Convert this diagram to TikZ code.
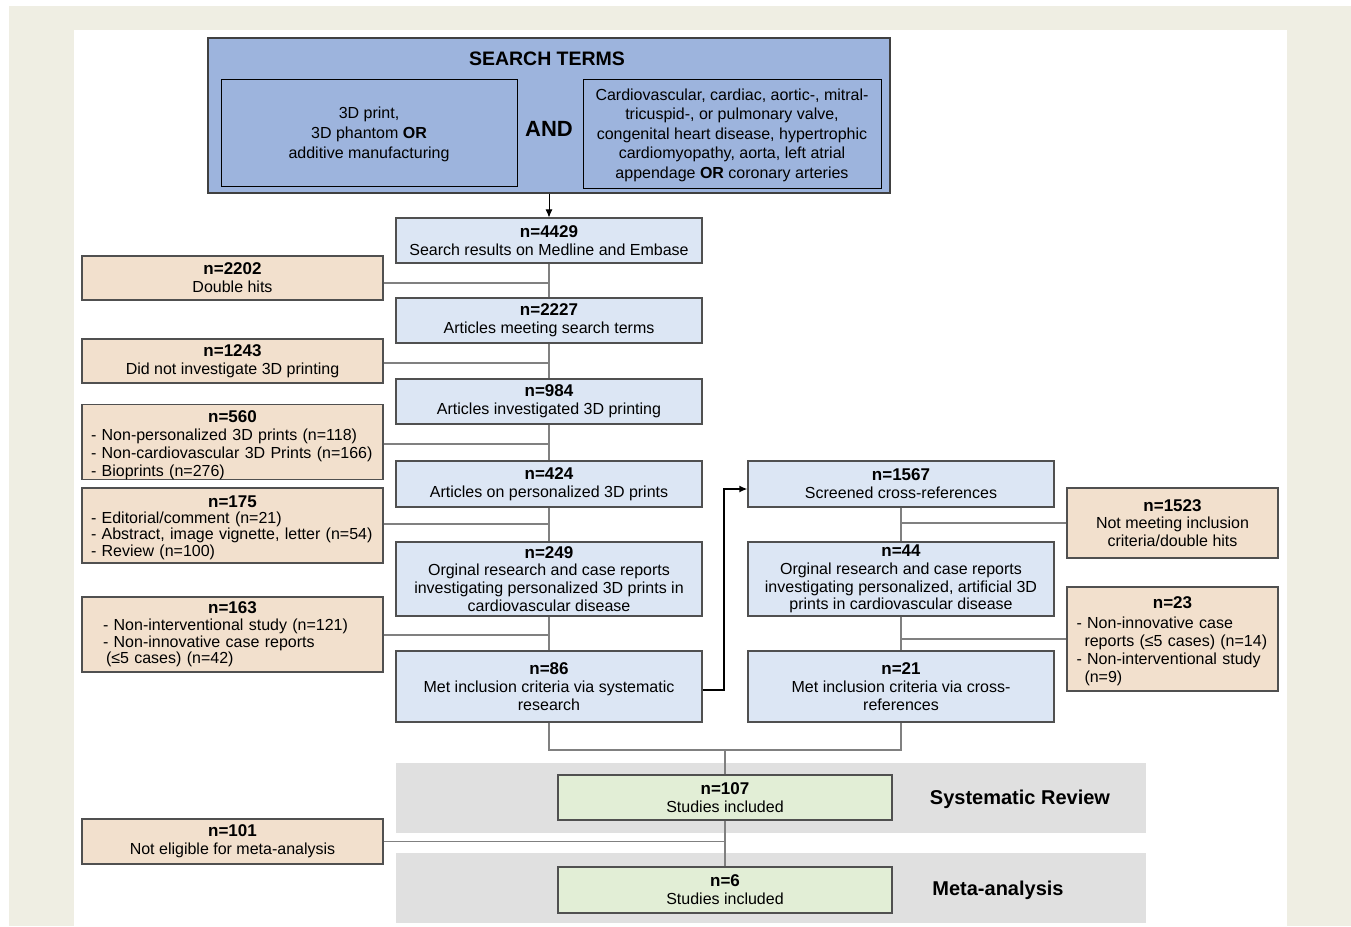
\documentclass[tikz,border=0pt]{standalone}
\usepackage{fontspec}
\setmainfont{Liberation Sans}
\usetikzlibrary{arrows.meta,calc}
\definecolor{pagebg}{HTML}{EFEEE3}
\definecolor{searchblue}{HTML}{9DB4DD}
\definecolor{lightblue}{HTML}{DCE6F4}
\definecolor{peach}{HTML}{F2E0CD}
\definecolor{lightgreen}{HTML}{E2EED6}
\definecolor{bandgray}{HTML}{E0E0E0}
\definecolor{boxline}{HTML}{505050}
\definecolor{connline}{HTML}{808080}
\newcommand\hd[1]{{\fontsize{17}{17.8}\selectfont\bfseries #1}}
\begin{document}
\begin{tikzpicture}[x=1pt,y=-1pt,
  base/.style={draw=boxline, line width=1.2pt, inner sep=0pt, align=center, font=\fontsize{16}{17.8}\selectfont},
  bluebox/.style={base, fill=lightblue},
  peachbox/.style={base, fill=peach},
  greenbox/.style={base, fill=lightgreen},
  conn/.style={draw=connline, line width=1.2pt},
  wide/.style={minimum width=306pt},
  left/.style={minimum width=301pt},
  boldlabel/.style={font=\fontsize{20}{22}\selectfont\bfseries, inner sep=0pt}
]
\useasboundingbox (0,0) rectangle (1351,926);
\fill[white] (0,0) rectangle (1351,926);
\fill[pagebg] (9,6) rectangle (1351,926);
\fill[white] (74,30) rectangle (1287,926);
% bands
\fill[bandgray] (396,763) rectangle (1146,833);
\fill[bandgray] (396,853) rectangle (1146,923);
% search terms
\node[draw=boxline!80!black, line width=1.6pt, fill=searchblue, minimum width=682pt, minimum height=155pt, inner sep=0pt] (search) at (549,115.5) {};
\node[font=\fontsize{19.5}{21}\selectfont\bfseries, inner sep=0pt] (st) at (547,59) {SEARCH TERMS};
\node[draw=black, line width=1pt, minimum width=296pt, minimum height=107pt, inner sep=0pt, align=center, font=\fontsize{16}{20}\selectfont] (sl) at (369,132.5) {\rule{0pt}{15pt}3D print,\\3D phantom \textbf{OR}\\additive manufacturing};
\node[draw=black, line width=1pt, minimum width=298pt, minimum height=109pt, inner sep=0pt, align=center, font=\fontsize{16}{19.5}\selectfont] (sr) at (732,133.5) {\rule{0pt}{15pt}Cardiovascular, cardiac, aortic-, mitral-\\tricuspid-, or pulmonary valve,\\congenital heart disease, hypertrophic\\cardiomyopathy, aorta, left atrial\\appendage \textbf{OR} coronary arteries};
\node[font=\fontsize{22}{24}\selectfont\bfseries, inner sep=0pt] (and) at (549,129) {AND};
% main column
\node[bluebox, wide, minimum height=45pt] (n4429) at (549,240.5) {\hd{n=4429}\\Search results on Medline and Embase};
\node[bluebox, wide, minimum height=45pt] (n2227) at (549,320.5) {\hd{n=2227}\\Articles meeting search terms};
\node[bluebox, wide, minimum height=45pt] (n984) at (549,401.5) {\hd{n=984}\\Articles investigated 3D printing};
\node[bluebox, wide, minimum height=46pt] (n424) at (549,484) {\hd{n=424}\\Articles on personalized 3D prints};
\node[bluebox, wide, minimum height=74pt] (n249) at (549,579) {\hd{n=249}\\Orginal research and case reports\\investigating personalized 3D prints in\\cardiovascular disease};
\node[bluebox, wide, minimum height=71pt] (n86) at (549,686.5) {\hd{n=86}\\Met inclusion criteria via systematic\\research};
% right column
\node[bluebox, wide, minimum height=46pt] (n1567) at (901,484) {\hd{n=1567}\\Screened cross-references};
\node[bluebox, wide, minimum height=74pt] (n44) at (901,579) {\hd{n=44}\\Orginal research and case reports\\investigating personalized, artificial 3D\\prints in cardiovascular disease};
\node[bluebox, wide, minimum height=71pt] (n21) at (901,686.5) {\hd{n=21}\\Met inclusion criteria via cross-\\references};
% exclusion boxes left
\node[peachbox, left, minimum height=44pt] (n2202) at (232.5,278) {\hd{n=2202}\\Double hits};
\node[peachbox, left, minimum height=44pt] (n1243) at (232.5,361) {\hd{n=1243}\\Did not investigate 3D printing};
\node[peachbox, left, minimum height=74pt, text width=283pt, align=left] (n560) at (232.5,442) {{\centering\rule{0pt}{18pt}\hd{n=560}\par}- Non-personalized 3D prints (n=118)\\- Non-cardiovascular 3D Prints (n=166)\\- Bioprints (n=276)};
\node[peachbox, left, minimum height=75pt, text width=283pt, align=left, font=\fontsize{16}{16.2}\selectfont] (n175) at (232.5,525.5) {{\centering\rule{0pt}{16pt}\hd{n=175}\par}- Editorial/comment (n=21)\\- Abstract, image vignette, letter (n=54)\\- Review (n=100)};
\node[peachbox, left, minimum height=75pt, text width=259pt, align=left, font=\fontsize{16}{16.6}\selectfont] (n163) at (232.5,634.5) {{\centering\hd{n=163}\par}- Non-interventional study (n=121)\\- Non-innovative case reports\\\hspace*{3pt}(≤5 cases) (n=42)};
\node[peachbox, left, minimum height=45pt] (n101) at (232.5,841.5) {\hd{n=101}\\Not eligible for meta-analysis};
% exclusion boxes right
\node[peachbox, minimum width=211pt, minimum height=70pt] (n1523) at (1172.5,523) {\hd{n=1523}\\Not meeting inclusion\\criteria/double hits};
\node[peachbox, minimum width=211pt, minimum height=104pt, text width=192pt, align=left, font=\fontsize{16}{18}\selectfont] (n23) at (1172.5,639) {{\centering\rule{0pt}{17pt}\hd{n=23}\par}\vspace{2pt}- Non-innovative case\\\hspace*{8pt}reports (≤5 cases) (n=14)\\- Non-interventional study\\\hspace*{8pt}(n=9)};
% results
\node[greenbox, minimum width=334pt, minimum height=45pt] (n107) at (725,797.5) {\hd{n=107}\\Studies included};
\node[greenbox, minimum width=334pt, minimum height=46pt] (n6) at (725,890) {\hd{n=6}\\Studies included};
\node[boldlabel] (sysrev) at (1020,799) {Systematic Review};
\node[boldlabel] (meta) at (998,890) {Meta-analysis};
% connectors
\draw[black, line width=0.8pt, -{Latex[length=8pt,width=7pt]}] (search.south) -- (n4429.north);
\draw[conn] (n4429.south) -- (n2227.north);
\draw[conn] (n2227.south) -- (n984.north);
\draw[conn] (n984.south) -- (n424.north);
\draw[conn] (n424.south) -- (n249.north);
\draw[conn] (n249.south) -- (n86.north);
\draw[conn] ([yshift=-5pt]n2202.east) -- ([yshift=-5pt]n2202.east -| n4429.south);
\draw[conn] ([yshift=-2pt]n1243.east) -- ([yshift=-2pt]n1243.east -| n4429.south);
\draw[conn] ([yshift=-2pt]n560.east) -- ([yshift=-2pt]n560.east -| n4429.south);
\draw[conn] ([yshift=1.5pt]n175.east) -- ([yshift=1.5pt]n175.east -| n4429.south);
\draw[conn] ([yshift=-0.5pt]n163.east) -- ([yshift=-0.5pt]n163.east -| n4429.south);
\draw[conn] (n1567.south) -- (n44.north);
\draw[conn] (n44.south) -- (n21.north);
\draw[conn] (n1523.west) -- (n1523.west -| n1567.south);
\draw[conn] (n23.west) -- (n23.west -| n1567.south);
\draw[black, line width=2pt, -{Latex[length=8pt,width=7pt]}] ([yshift=-3.5pt]n86.east) -- ++(21,0) |- ([yshift=-5pt]n1567.west);
\coordinate (join) at (725,750);
\draw[conn] (n86.south) |- (join) -| (n21.south);
\draw[conn] (join) -- (n107.north);
\draw[conn] (n107.south) -- (n6.north);
\draw[conn] (n101.east) -- (n101.east -| n107.south);
\end{tikzpicture}
\end{document}
